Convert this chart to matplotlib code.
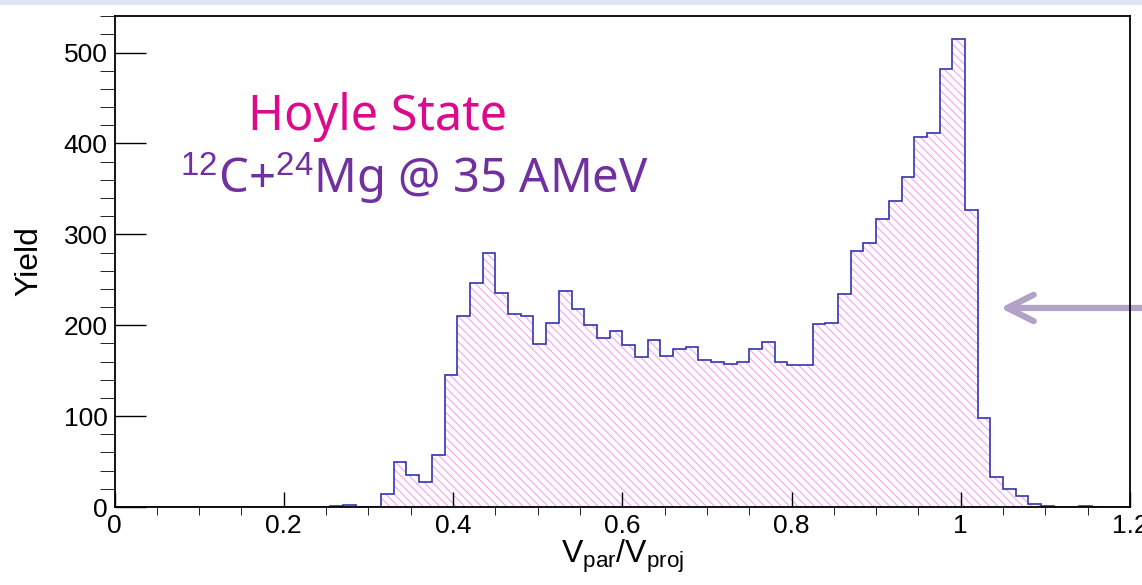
import matplotlib.pyplot as plt
import matplotlib
import numpy as np
from matplotlib.patches import Rectangle
from matplotlib.ticker import MultipleLocator

matplotlib.rcParams.update({
    'font.family': 'Liberation Sans',
    'mathtext.fontset': 'custom',
    'mathtext.rm': 'Liberation Sans',
    'mathtext.it': 'Liberation Sans:italic',
    'hatch.linewidth': 0.8,
})

# histogram of V_par/V_proj, 80 bins between 0 and 1.2
nbins = 80
xmin, xmax = 0.0, 1.2
counts = [0, 0, 0, 0, 0, 0, 0, 0, 0, 0,
          0, 0, 0, 0, 0, 0, 0, 1, 2, 0,
          0, 14, 50, 35, 28, 57, 145, 210, 246, 280,
          235, 212, 210, 179, 202, 238, 218, 200, 186, 194,
          178, 165, 184, 166, 174, 176, 162, 159, 157, 159,
          174, 181, 159, 156, 156, 201, 202, 234, 282, 291,
          317, 337, 363, 407, 411, 482, 515, 327, 98, 33,
          20, 12, 3, 1, 0, 0, 1, 0, 0, 0]

edges = np.linspace(xmin, xmax, nbins + 1)

fig = plt.figure(figsize=(11.42, 5.85), dpi=100)
ax = fig.add_axes([0.1003, 0.1333, 0.8892, 0.8402])

# slide header strip
fig.patches.append(Rectangle((0, 0.991), 1, 0.009, transform=fig.transFigure,
                             facecolor='#dce5f1', edgecolor='none'))

# hatched fill, then the outline on top
ax.stairs(counts, edges, fill=True, facecolor='none', edgecolor='#f5a3f5',
          hatch='\\\\\\\\', lw=0, zorder=1)
ax.stairs(counts, edges, baseline=0, color='#3434b0', lw=1.2, zorder=2)

ax.set_xlim(xmin, xmax)
ax.set_ylim(0, 1.05 * max(counts))

ax.xaxis.set_major_locator(MultipleLocator(0.2))
ax.xaxis.set_minor_locator(MultipleLocator(0.05))
ax.yaxis.set_major_locator(MultipleLocator(100))
ax.yaxis.set_minor_locator(MultipleLocator(20))
ax.xaxis.set_major_formatter(lambda v, p: f'{v:g}')

ax.tick_params(direction='in', labelsize=19, pad=5, width=1, color='black')
ax.tick_params(axis='x', which='major', length=11)
ax.tick_params(axis='x', which='minor', length=6)
ax.tick_params(axis='y', which='major', length=22)
ax.tick_params(axis='y', which='minor', length=11)

for s in ax.spines.values():
    s.set_linewidth(1.3)
    s.set_zorder(3)

ax.set_xlabel(r'V$_{\rm par}$/V$_{\rm proj}$', fontsize=23, labelpad=0)
ax.set_ylabel('Yield', fontsize=23, labelpad=14)

ax.text(0.2595, 0.767, 'Hoyle State', transform=ax.transAxes,
        ha='center', va='baseline', fontsize=35, color='#dc0a8c',
        family='Noto Sans')
ax.text(0.0645, 0.639, r'$^{12}$C+$^{24}$Mg @ 35 AMeV', transform=ax.transAxes,
        ha='left', va='baseline', fontsize=34, color='#7030a0',
        family='Noto Sans')

# arrow coming in from the right edge
ax.annotate('', xy=(1.0467, 219), xytext=(1.26, 219), xycoords='data',
            textcoords='data', annotation_clip=False,
            arrowprops=dict(arrowstyle='->, head_length=19, head_width=9.5',
                            mutation_scale=1, lw=4.5, color='#b3a2c7',
                            shrinkA=0, shrinkB=0, capstyle='round',
                            joinstyle='round'))

fig.savefig('out.png', dpi=100)
